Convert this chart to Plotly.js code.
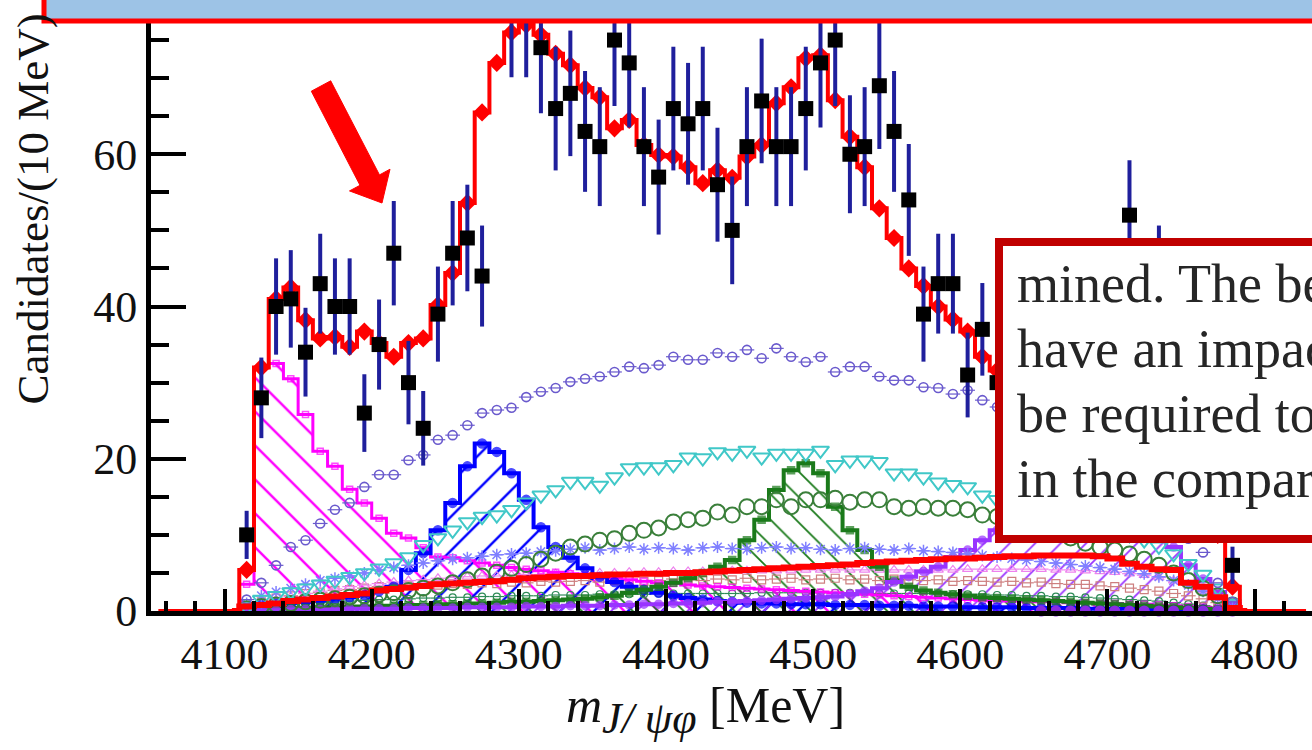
<!DOCTYPE html>
<html>
<head>
<meta charset="utf-8">
<script src="https://cdn.plot.ly/plotly-3.0.1.min.js"></script>
<style>
html,body{margin:0;padding:0;overflow:hidden;background:#fff}
#chart{width:1312px;height:750px}
</style>
</head>
<body>
<div id="chart"></div>
<script>
// ---- data ----
const binCenters = [4115,4125,4135,4145,4155,4165,4175,4185,4195,4205,4215,4225,4235,4245,4255,4265,4275,4285,4295,4305,4315,4325,4335,4345,4355,4365,4375,4385,4395,4405,4415,4425,4435,4445,4455,4465,4475,4485,4495,4505,4515,4525,4535,4545,4555,4565,4575,4585,4595,4605,4615,4625,4635,4645,4655,4665,4675,4685,4695,4705,4715,4725,4735,4745,4755,4765,4775,4785];

const dataCounts = [10,28,40,41,34,43,40,40,26,35,
 47,30,24,39,47,49,44,88,79,79,
 74,66,68,63,61,75,72,61,57,66,
 64,66,56,50,61,67,61,61,66,72,
 75,60,61,69,63,54,39,43,43,31,
 37,30,32,26,33,29,24,27,30,22,
 52,35,44,28,20,17,15,6];

const totalFit = [5.4,32,41,42.5,38.2,35.8,36,34.7,36.7,35.2,
 33.4,35.2,35.8,40.2,44.4,53.6,65.5,72,76,77,
 75.7,73.2,71.7,68.7,67.5,63.4,64.5,61.2,59.9,59.7,
 58.3,56.2,57.9,56.9,59.7,61.2,66.7,68.8,72.6,73,
 67.1,62.3,58.3,52.9,49,45,42.7,40,38.3,36.7,
 33.4,31.6,30,28.5,27.5,27,27,27.5,28,28,
 27.5,26.5,25,22,18,14,10,3.2];

const magentaHist = [3.5,32,32.5,30.5,25.8,21,19,16,14.2,12.2,
 10.2,9.6,8.3,7.1,7,6.6,6.3,6,5.7,5.5,
 5.3,5.1,4.9,4.7,4.5,4.3,4.1,3.9,3.7,3.6,
 3.4,3.3,3.2,3.1,3,2.9,2.8,2.7,2.6,2.5,
 2.4,2.3,2.2,2.1,2,1.9,1.8,1.7,1.6,1.5,
 1.4,1.4,1.3,1.3,1.2,1.2,1.1,1.1,1,1,
 0.9,0.9,0.8,0.7,0.6,0.5,0.4,0.3];

const blueHist = [0.3,0.8,1,1.1,1.2,1.4,1.6,1.8,2.1,2.6,
 3.2,5.4,7.6,10.6,14.2,19,22,20.9,18.1,14.6,
 11,8.4,7,5.6,4.5,3.8,3.2,2.8,2.4,2,
 1.7,1.5,1.3,1.2,1.1,1,1,0.9,0.9,0.9,
 0.8,0.8,0.8,0.7,0.7,0.7,0.6,0.6,0.6,0.5,
 0.5,0.5,0.5,0.4,0.4,0.4,0.4,0.3,0.3,0.3,
 0.3,0.3,0.2,0.2,0.2,0.2,0.1,0.1];

const greenHist = [0.2,0.3,0.3,0.4,0.4,0.5,0.5,0.6,0.6,0.7,
 0.7,0.8,0.8,0.9,0.9,1,1,1.1,1.2,1.2,
 1.3,1.4,1.5,1.6,1.8,2,2.4,2.8,3.2,3.7,
 4.3,5,5.8,6.7,9.3,12,15.9,18.5,19.4,18.1,
 13.7,10.6,8,5.8,4,3.2,2.7,2.4,2.2,2,
 1.8,1.7,1.6,1.5,1.4,1.3,1.2,1.1,1,0.9,
 0.8,0.7,0.6,0.5,0.4,0.3,0.2,0.1];

const purpleHist = [0.1,0.1,0.1,0.2,0.2,0.2,0.2,0.3,0.3,0.3,
 0.3,0.4,0.4,0.4,0.4,0.5,0.5,0.5,0.5,0.6,
 0.6,0.6,0.7,0.7,0.7,0.8,0.8,0.9,0.9,1,
 1,1.1,1.2,1.2,1.3,1.4,1.5,1.6,1.7,1.8,
 1.9,2.2,2.6,3,3.8,4.5,5.2,5.8,7.1,8,
 9.3,10.6,11.5,12.2,12.8,13.2,13.5,13.6,13.4,13,
 12.2,11,9.7,8.4,6,4.2,2.5,1];

const slateCircles = [1.5,3.7,6,8.4,9.3,11.5,13.3,14.2,16.3,17.9,
 17.9,19.8,20.5,22.5,23.1,24.4,26,26.4,26.7,28.1,
 28.8,29.3,30.1,30.5,30.8,31.4,32.1,31.9,32.3,33.4,
 33,33,33.9,33.4,34.3,33.2,34.5,33.4,32.7,33.4,
 31.4,32.1,32.1,30.8,30.3,30.3,29.4,29.3,28.5,29,
 27.7,26.8,26,25,24,23,21.5,20,18.5,17,
 15.5,14,12.5,11,9.5,7.7,3.7,1.2];

const cyanTriangles = [0.5,1.5,2,2.5,3,3.5,4,4.5,5,5.6,
 6.3,7.1,8.7,9.6,10.6,11.7,12.4,12.6,13.3,14.3,
 15.2,15.9,17,17,16.5,17.6,18.8,18.9,18.9,19.2,
 20.2,20.1,20.9,20.7,21.1,20.2,20.7,20.7,20.7,21.1,
 19.2,19.8,19.8,19.6,18.1,18.1,17.6,16.9,16.6,16.3,
 15.2,14.6,14,13.5,13,12.5,12,11.5,11,10.5,
 10,9.3,8.5,7.5,6.2,4.8,3,1];

const greenCircles = [0.3,0.6,0.8,1,1.2,1.4,1.6,1.8,2,2.2,
 2.4,2.7,3,3.3,3.7,4.1,4.6,5.1,5.6,6.1,
 6.8,7.6,8.4,8.8,9.3,9.5,10.2,10.6,10.9,11.7,
 12,12.2,13,12.6,13.7,13.7,14.6,13.7,14.6,14.6,
 14.8,14.3,14.6,14.6,13.7,13.5,13.7,13.5,13.5,13.3,
 12.6,12.4,12,11.5,11,10.3,9.6,8.9,8.4,8,
 7.5,6.8,6,5,4,3,2,0.8];

const asterisks = [1,2,2.5,3,3.5,4,4.3,4.6,5,5.4,
 5.7,6,6.3,6.6,6.8,7,7.2,7.4,7.5,7.6,
 7.8,7.9,8.1,8.3,8,8.2,8.4,8.1,8.3,8.2,
 8,8.3,8.4,8.2,8.1,8.3,8.4,8.2,8.3,8.1,
 8,8.2,8.3,8.1,8,8.2,7.9,7.8,7.7,7.5,
 7.3,7.1,6.9,6.7,6.5,6.3,6.1,5.9,5.7,5.5,
 5.2,4.9,4.5,4,3.4,2.6,1.6,0.5];

const rosySquares = [0.5,1.2,1.7,2,2.3,2.4,2.7,2.8,3,3.2,
 3.1,3.3,3.5,3.4,3.6,3.5,3.7,3.6,3.8,3.7,
 3.9,3.8,3.9,4,3.8,4,4.1,3.9,4,4.2,
 4.1,4,4.2,4.1,4.3,4.1,4.2,4.3,4.1,4.2,
 4.3,4.1,4.2,4,4.2,4.1,4,4.1,3.9,4,
 3.9,3.8,3.9,3.7,3.8,3.6,3.5,3.5,3.3,3.2,
 3,2.8,2.6,2.3,2,1.6,1.1,0.5];

const violetTriangles = [0.4,1,1.5,1.9,2.3,2.6,2.9,3.2,3.4,3.6,
 3.8,4,4.1,4.3,4.4,4.5,4.6,4.6,4.7,4.8,
 4.8,4.9,4.9,5,5,5,5.1,5.1,5.1,5.2,
 5.2,5.2,5.2,5.3,5.3,5.3,5.3,5.3,5.4,5.4,
 5.4,5.4,5.4,5.4,5.4,5.4,5.4,5.4,5.4,5.5,
 5.5,5.5,5.5,5.5,5.5,5.4,5.4,5.3,5.2,5.1,
 4.9,4.7,4.4,4,3.4,2.7,1.8,0.7];

const darkGreenSmall = [0.2,0.5,0.7,0.9,1,1.1,1.2,1.3,1.4,1.5,
 1.5,1.6,1.7,1.7,1.8,1.8,1.9,1.9,2,2,
 2,2.1,2.1,2.1,2.2,2.2,2.2,2.2,2.3,2.3,
 2.3,2.3,2.3,2.3,2.3,2.4,2.4,2.4,2.4,2.4,
 2.4,2.4,2.4,2.3,2.3,2.3,2.3,2.3,2.2,2.2,
 2.2,2.1,2.1,2,2,1.9,1.9,1.8,1.7,1.6,
 1.5,1.4,1.3,1.1,0.9,0.7,0.5,0.2];

const thickRedComp = [0.6,0.8,1,1.3,1.5,1.7,1.9,2.1,2.3,2.7,
 2.9,3.1,3.3,3.5,3.6,3.7,3.8,3.9,4.1,4.3,
 4.4,4.5,4.6,4.6,4.7,4.8,4.8,4.9,4.9,5,
 5,5.1,5.2,5.3,5.4,5.5,5.6,5.7,5.8,5.9,
 6,6.1,6.3,6.4,6.5,6.6,6.7,6.8,6.9,6.9,
 7,7.1,7.2,7.2,7.3,7.3,7.3,7.3,7.2,6.9,
 6.2,5.8,5.5,5.4,3.7,3.2,1.8,0.4];

const axisZeroX = [4655,4665,4675,4685,4695,4705,4715,4725,4735,4745,4755,4765,4775,4785];
const axisZeroY = [0,0,0,0,0,0,0,0,0,0,0,0,0,0];

const xTickVals = [4100,4200,4300,4400,4500,4600,4700,4800];
const yTickVals = [0,20,40,60,80];

const boxLines = ['mined. The be', 'have an impac', 'be required to', 'in the compar'];

// ---- helpers ----
const L = 151, T = 2, PW = 1161, PH = 609;
const px = x => (x - L) / PW;
const py = y => (T + PH - y) / PH;

const FONT = 'Liberation Serif, Times New Roman, serif';

function hatchBar(y, color, shape, size) {
  return {type:'bar', x: binCenters, y: y, width: 10,
    marker: {color:'rgba(0,0,0,0)', line:{width:0},
      pattern:{shape: shape, fgcolor: color, fgopacity: 1, bgcolor:'rgba(0,0,0,0)', size: size, solidity: 0.1, fillmode:'overlay'}},
    hoverinfo:'skip', showlegend:false};
}
function outline(y, color, width, symbol, msize) {
  const xs = [binCenters[0] - 10].concat(binCenters, [binCenters[binCenters.length-1] + 10]);
  const ys = [0].concat(y, [0]);
  const sizes = xs.map((_, i) => (i === 0 || i === xs.length - 1) ? 0 : msize);
  return {type:'scatter', mode:'lines+markers', x: xs, y: ys,
    line:{color: color, width: width, shape:'hvh'},
    marker:{symbol: symbol, size: sizes, color: color, line:{color: color, width: 1.5}},
    hoverinfo:'skip', showlegend:false};
}
function markersOnly(y, color, symbol, size, lw, xerr) {
  const t = {type:'scatter', mode:'markers', x: binCenters, y: y,
    marker:{symbol: symbol, size: size, color: color, line:{color: color, width: lw}},
    hoverinfo:'skip', showlegend:false};
  if (xerr) t.error_x = {type:'constant', value:5, width:0, thickness:1.2, color: color};
  return t;
}

// full-range fit line (zero outside the populated bins)
const padLeft = [4055,4065,4075,4085,4095,4105];
const padRight = [4795,4805,4815,4825,4835];
const fitX = padLeft.concat(binCenters, padRight);
const fitY = padLeft.map(() => 0).concat(totalFit, padRight.map(() => 0));
const redX = [binCenters[0]-10].concat(binCenters, [binCenters[binCenters.length-1]+10]);
const redY = [0].concat(thickRedComp, [0]);

const traces = [
  hatchBar(magentaHist, '#FF00FF', '\\', 24),
  hatchBar(blueHist, '#0000FF', '/', 24),
  hatchBar(greenHist, '#1A7A1A', '\\', 18),
  hatchBar(purpleHist, '#9933FF', '/', 18),
  markersOnly(darkGreenSmall, '#2E8B57', 'circle-open', 7, 1.2, true),
  markersOnly(rosySquares, '#CD7F7F', 'square-open', 8, 1.2, true),
  markersOnly(violetTriangles, '#EE82EE', 'triangle-up-open', 9, 1.2, true),
  outline(magentaHist, '#FF00FF', 3, 'square-open', 6),
  outline(blueHist, '#0000FF', 4, 'circle', 9),
  outline(greenHist, '#1A7A1A', 4, 'square', 7),
  outline(purpleHist, '#9933FF', 4, 'circle', 8),
  markersOnly(asterisks, '#7F7FFF', 'asterisk-open', 10, 1.5, true),
  markersOnly(greenCircles, '#3A7F3A', 'circle-open', 15, 2, false),
  markersOnly(cyanTriangles, '#40C8C8', 'triangle-down-open', 15, 2, false),
  markersOnly(slateCircles, '#6A5ACD', 'circle-open', 9, 1.6, true),
  {type:'scatter', mode:'markers', x: axisZeroX, y: axisZeroY, cliponaxis:false,
   marker:{symbol:'circle', size:11, color:'#8A2BE2'}, hoverinfo:'skip', showlegend:false},
  {type:'scatter', mode:'lines', x: redX, y: redY, line:{color:'#FF0000', width:6, shape:'hvh'}, hoverinfo:'skip', showlegend:false},
  {type:'scatter', mode:'lines', x: fitX, y: fitY, line:{color:'#FF0000', width:4, shape:'hvh'}, hoverinfo:'skip', showlegend:false},
  {type:'scatter', mode:'markers', x: binCenters, y: totalFit, marker:{symbol:'diamond', size:14, color:'#FF0000'}, hoverinfo:'skip', showlegend:false},
  {type:'scatter', mode:'markers', x: binCenters, y: dataCounts,
   marker:{symbol:'square', size:15, color:'#000000'},
   error_y:{type:'sqrt', color:'#1F1F9C', thickness:4, width:0},
   hoverinfo:'skip', showlegend:false}
];

// ---- overlays (slide decorations) ----
const arrowPts = [[311.3,91.2],[330.7,80.8],[379.5,174.9],[390,169.2],[382,203],[349.5,190.9],[360,185.3]];
const arrowPath = 'M ' + arrowPts.map(p => px(p[0]).toFixed(5) + ',' + py(p[1]).toFixed(5)).join(' L ') + ' Z';

const shapes = [
  {type:'rect', xref:'paper', yref:'paper', x0: px(44), x1: px(1340), y0: py(21), y1: py(-30),
   fillcolor:'#9DC3E6', line:{color:'#FF0000', width:5}, layer:'above'},
  {type:'rect', xref:'paper', yref:'paper', x0: px(999), x1: px(1340), y0: py(539), y1: py(242),
   fillcolor:'#FFFFFF', line:{color:'#C00000', width:8}, layer:'above'},
  {type:'path', xref:'paper', yref:'paper', path: arrowPath, fillcolor:'#FF0000', line:{color:'#FF0000', width:1}, layer:'above'}
];

const boxBaselines = [284, 349, 414, 479];
const annotations = boxLines.map((t, i) => ({
  xref:'paper', yref:'paper', x: px(1015), y: py(boxBaselines[i]), xanchor:'left', yanchor:'middle',
  text: t, showarrow:false, font:{family: FONT, size: 54, color:'#262626'}
}));
annotations.push({
  xref:'paper', yref:'paper', x: px(32), y: py(407), xanchor:'center', yanchor:'bottom',
  text:'Candidates/(10 MeV)', textangle:-90, showarrow:false,
  font:{family: FONT, size: 45, color:'#111111'}
});
annotations.push({
  xref:'paper', yref:'paper', x: px(705), y: py(710), xanchor:'center', yanchor:'middle',
  text:'<i>m</i><sub><i><span style="font-size:44px">J/ ψφ</span></i></sub> [MeV]', showarrow:false,
  font:{family: FONT, size: 50, color:'#111111'}
});

const layout = {
  width: 1312, height: 750,
  margin: {l: L, r: 1312 - L - PW, t: T, b: 750 - T - PH, pad: 0},
  paper_bgcolor:'#FFFFFF', plot_bgcolor:'#FFFFFF',
  font: {family: FONT, color:'#111111'},
  barmode:'overlay', bargap:0,
  showlegend:false,
  xaxis: {
    range:[4050, 4050 + PW / 1.4714], showgrid:false, zeroline:false,
    showline:true, linecolor:'#000', linewidth:5,
    tickmode:'array', tickvals: xTickVals, ticktext: xTickVals.map(String),
    ticks:'inside', ticklen:22, tickwidth:4, tickcolor:'#000',
    minor:{dtick:20, tick0:4100, ticks:'inside', ticklen:10, tickwidth:4, tickcolor:'#000', showgrid:false},
    tickfont:{family: FONT, size: 44, color:'#111'}, ticklabelstandoff: 0
  },
  yaxis: {
    range:[0, 80], showgrid:false, zeroline:false,
    showline:true, linecolor:'#000', linewidth:5,
    tickmode:'array', tickvals: yTickVals, ticktext: yTickVals.map(String),
    ticks:'inside', ticklen:35, tickwidth:4, tickcolor:'#000',
    minor:{dtick:5, tick0:0, ticks:'inside', ticklen:18, tickwidth:4, tickcolor:'#000', showgrid:false},
    tickfont:{family: FONT, size: 44, color:'#111'}, ticklabelstandoff: 0
  },
  shapes: shapes,
  annotations: annotations
};

Plotly.newPlot('chart', traces, layout, {staticPlot:true, displayModeBar:false});
</script>
</body>
</html>
